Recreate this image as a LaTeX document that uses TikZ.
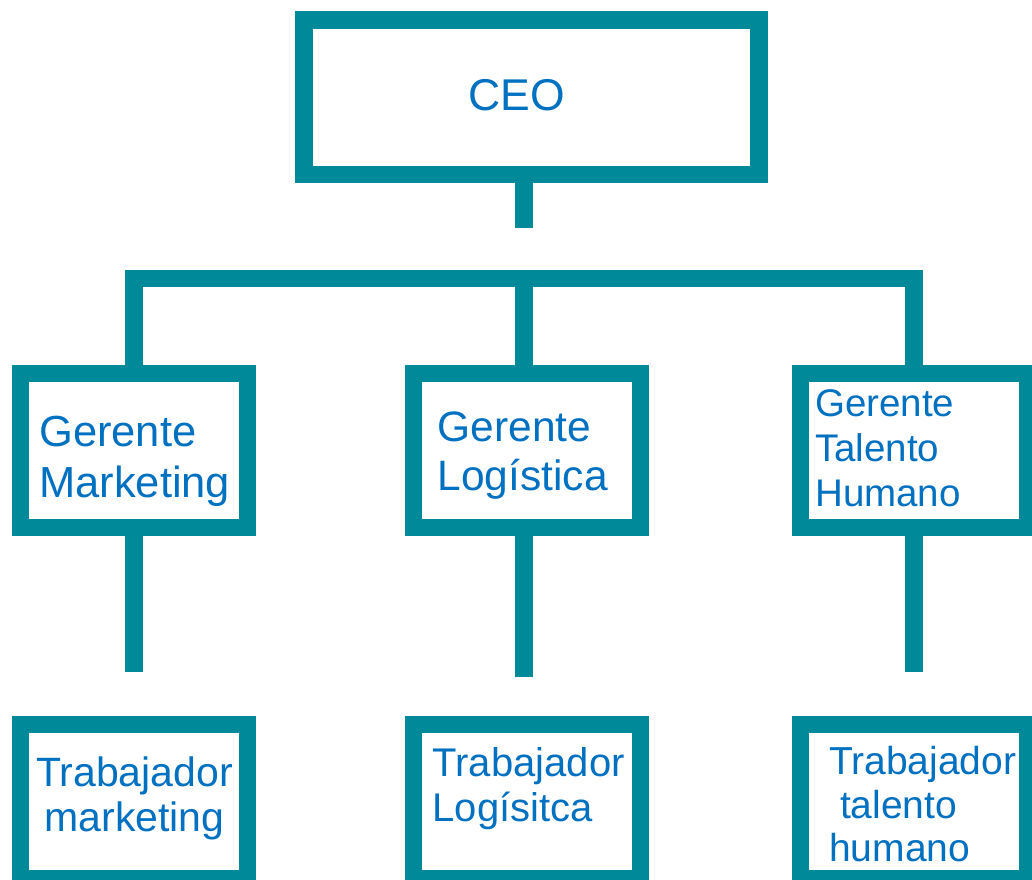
\documentclass[tikz,border=0pt]{standalone}
\usepackage{fontspec}
\setmainfont{Liberation Sans}
\usetikzlibrary{calc}
\definecolor{orgteal}{RGB}{0,138,153}
\definecolor{orgblue}{RGB}{0,112,192}

\begin{document}
\begin{tikzpicture}[x=1pt,y=-1pt,
  box/.style={draw=orgteal,line width=17.5pt,minimum width=227pt,minimum height=154pt,inner sep=0pt},
  link/.style={draw=orgteal,line width=17.5pt,line join=miter},
  lbl/.style={text=orgblue,inner sep=0pt,anchor=base west,align=left}]
\useasboundingbox (0,0) rectangle (1032,879);
\clip (0,0) rectangle (1032,879);
\node[box,minimum width=455pt,minimum height=154.5pt] (ceo) at (531.5,97) {};
\node[box] (mkt) at (134,450.5) {};
\node[box] (log) at (527,450.5) {};
\node[box] (th) at (914,450.5) {};
\node[box] (wmkt) at (134,801.6) {};
\node[box] (wlog) at (527,801.6) {};
\node[box] (wth) at (914,801.6) {};
\coordinate (hub) at (524,228);
\coordinate (bar) at (524,278.5);
\coordinate (mktend) at (134,671.7);
\coordinate (logend) at (524,677);
\coordinate (thend) at (914,671.7);
\draw[link] (hub |- ceo.south) -- (hub);
\draw[link] (mkt.north) |- (bar) -| (th.north);
\draw[link] (bar) -- (hub |- log.north);
\draw[link] (mkt.south) -- (mktend);
\draw[link] (hub |- log.south) -- (logend);
\draw[link] (th.south) -- (thend);
% base = baseline of the last line
\node[lbl,font=\fontsize{44.5}{51}\selectfont] (ceotxt) at (468,110) {CEO};
\node[lbl,font=\fontsize{43.5}{51}\selectfont] (mkttxt) at (39,497.7) {Gerente\\Marketing};
\node[lbl,font=\fontsize{42.5}{48.3}\selectfont] (logtxt) at (437.5,490) {Gerente\\Logística};
\node[lbl,font=\fontsize{38.5}{45}\selectfont] (thtxt) at (815,506.7) {Gerente\\Talento\\Humano};
\node[lbl,align=center,font=\fontsize{41}{45}\selectfont] (wmkttxt) at (36,831.7) {Trabajador\\marketing};
\node[lbl,font=\fontsize{40}{45}\selectfont] (wlogtxt) at (432.5,821.7) {Trabajador\\Logísitca};
\node[lbl,font=\fontsize{39}{43.5}\selectfont] (wthtxt) at (829,861.7) {Trabajador\\\ talento\\humano};
\end{tikzpicture}
\end{document}
